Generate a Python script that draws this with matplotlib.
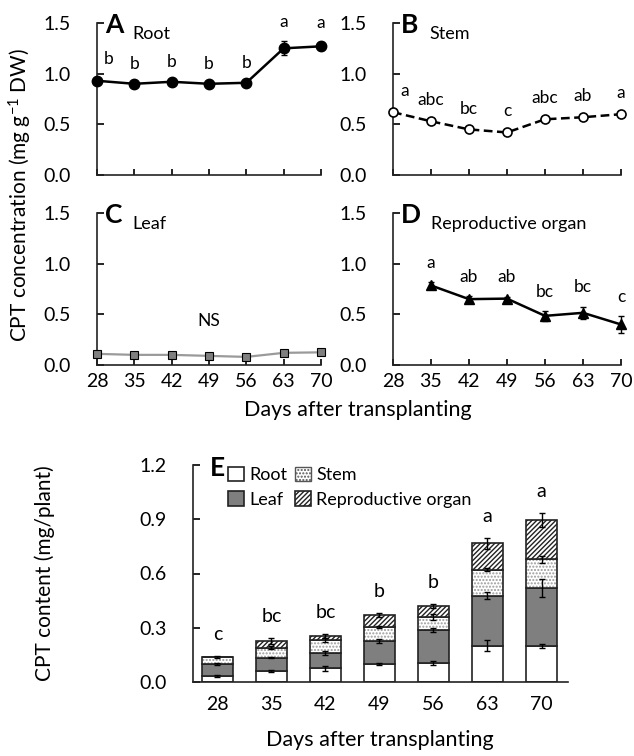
import numpy as np
import matplotlib
matplotlib.use('Agg')
import matplotlib.pyplot as plt

plt.rcParams['font.family'] = ['Lato', 'DejaVu Sans']
plt.rcParams['mathtext.fontset'] = 'custom'
plt.rcParams['mathtext.rm'] = 'Lato'
plt.rcParams['mathtext.it'] = 'Lato:italic'
plt.rcParams['hatch.linewidth'] = 1.0

# concentration data (mg g-1 DW)
days = [28, 35, 42, 49, 56, 63, 70]
root_conc = [0.93, 0.90, 0.92, 0.90, 0.91, 1.25, 1.27]
root_err = [0.02, 0.01, 0.01, 0.01, 0.01, 0.07, 0.04]
root_sig = ['b', 'b', 'b', 'b', 'b', 'a', 'a']

stem_conc = [0.62, 0.53, 0.45, 0.42, 0.55, 0.57, 0.60]
stem_err = [0.02, 0.02, 0.01, 0.02, 0.02, 0.02, 0.02]
stem_sig = ['a', 'abc', 'bc', 'c', 'abc', 'ab', 'a']

leaf_conc = [0.11, 0.10, 0.10, 0.09, 0.08, 0.12, 0.125]
leaf_err = [0.01, 0.01, 0.01, 0.01, 0.01, 0.01, 0.01]

repro_days = [35, 42, 49, 56, 63, 70]
repro_conc = [0.785, 0.65, 0.655, 0.485, 0.515, 0.40]
repro_err = [0.03, 0.03, 0.02, 0.05, 0.06, 0.08]
repro_sig = ['a', 'ab', 'ab', 'bc', 'bc', 'c']

# content data (mg/plant)
root_cont = [0.035, 0.063, 0.076, 0.098, 0.105, 0.200, 0.200]
leaf_cont = [0.065, 0.072, 0.084, 0.129, 0.181, 0.278, 0.322]
stem_cont = [0.040, 0.055, 0.071, 0.078, 0.074, 0.144, 0.156]
repro_cont = [0.000, 0.037, 0.022, 0.064, 0.059, 0.144, 0.217]
root_cont_err = [0.005, 0.005, 0.015, 0.005, 0.01, 0.03, 0.01]
leaf_cont_err = [0.005, 0.005, 0.01, 0.01, 0.01, 0.02, 0.05]
stem_cont_err = [0.005, 0.01, 0.01, 0.005, 0.015, 0.01, 0.02]
repro_cont_err = [0.0, 0.015, 0.01, 0.01, 0.01, 0.03, 0.04]
content_sig = ['c', 'bc', 'bc', 'b', 'b', 'a', 'a']

W, H = 634, 756
fig = plt.figure(figsize=(W / 100, H / 100), dpi=100)


def ax_px(l, t, r, b):
    return fig.add_axes([l / W, 1 - b / H, (r - l) / W, (b - t) / H])


def style(ax, ypad=19, xpad=6):
    for s in ['top', 'right']:
        ax.spines[s].set_visible(False)
    for s in ['left', 'bottom']:
        ax.spines[s].set_linewidth(1.2)
        ax.spines[s].set_color('#222222')
    ax.tick_params(axis='y', direction='in', length=5, width=1.2, labelsize=14, pad=ypad)
    ax.tick_params(axis='x', direction='in', length=4, width=1.2, labelsize=14, pad=xpad)


def line_panel(ax, x, y, err, letter, name, name_x=0.16, **kw):
    ax.errorbar(x, y, yerr=err, color='black', ecolor='black', elinewidth=1,
                capsize=2, clip_on=False, zorder=3, **kw)
    ax.set_xlim(28, 70)
    ax.set_ylim(0, 1.5)
    ax.set_xticks(days)
    ax.set_yticks([0, 0.5, 1.0, 1.5])
    ax.yaxis.set_major_formatter(matplotlib.ticker.FormatStrFormatter('%.1f'))
    style(ax)
    ax.text(0.035, 0.985, letter, transform=ax.transAxes, fontsize=19, fontweight='bold',
            va='center', ha='left')
    ax.text(name_x, 0.93, name, transform=ax.transAxes, fontsize=13,
            va='center', ha='left')


def sig_labels(ax, x, y, err, sig, first_shift=0.0):
    for xi, yi, ei, s in zip(x, y, err, sig):
        dx = first_shift if xi == 28 else 0
        ax.text(xi + dx, yi + ei + 0.19, s, ha='center', va='center', fontsize=12.5, clip_on=False)


axA = ax_px(97, 23, 321, 175)
line_panel(axA, days, root_conc, root_err, 'A', 'Root',
           marker='o', ms=7.5, mfc='black', mec='black', lw=1.8)
sig_labels(axA, days, root_conc, root_err, root_sig, first_shift=2.2)
axA.set_xticklabels([])

axB = ax_px(393, 23, 621, 175)
line_panel(axB, days, stem_conc, stem_err, 'B', 'Stem',
           marker='o', ms=6.5, mfc='white', mec='black', mew=1.2, lw=1.8, ls=(0, (3.5, 1.8)))
sig_labels(axB, days, stem_conc, stem_err, stem_sig, first_shift=2.2)
axB.set_xticklabels([])

axC = ax_px(97, 213, 321, 365)
line_panel(axC, days, leaf_conc, leaf_err, 'C', 'Leaf',
           marker='s', ms=6, mfc='#7f7f7f', mec='black', mew=0.8, lw=1.6)
axC.get_lines()[0].set_color('#9a9a9a')
axC.get_lines()[0].set_markeredgecolor('black')
axC.text(49, 0.43, 'NS', ha='center', va='center', fontsize=12.5)

axD = ax_px(393, 213, 621, 365)
line_panel(axD, repro_days, repro_conc, repro_err, 'D', 'Reproductive organ', name_x=0.165,
           marker='^', ms=7.5, mfc='black', mec='black', lw=1.8)
sig_labels(axD, repro_days, repro_conc, repro_err, repro_sig)

fig.text(20 / W, 1 - 195 / H, 'CPT concentration (mg g$^{-1}$ DW)', rotation=90,
         ha='center', va='center', fontsize=15)
fig.text(358 / W, 1 - 410 / H, 'Days after transplanting', ha='center', va='center', fontsize=15.5)

# panel E: stacked content
axE = ax_px(193, 465, 568, 682)
xpos = np.arange(len(days))
bw = 0.57
bottom = np.zeros(len(days))
layers = [
    (root_cont, root_cont_err, 'white', None, 'Root'),
    (leaf_cont, leaf_cont_err, '#7f7f7f', None, 'Leaf'),
    (stem_cont, stem_cont_err, 'white', '.....', 'Stem'),
    (repro_cont, repro_cont_err, 'white', '///////', 'Reproductive organ'),
]
handles = {}
for vals, errs, color, hatch, label in layers:
    vals = np.array(vals)
    if hatch == '.....':
        axE.bar(xpos, vals, bw, bottom=bottom, color='white', edgecolor='#9a9a9a',
                hatch=hatch, linewidth=0, zorder=2)
        axE.bar(xpos, vals, bw, bottom=bottom, color='none', edgecolor='#222222',
                linewidth=1.2, zorder=2)
        handles[label] = axE.bar([0], [0], 0, color='white', edgecolor='#555555',
                                 hatch=hatch, linewidth=1)
    else:
        handles[label] = axE.bar(xpos, vals, bw, bottom=bottom, color=color, edgecolor='#222222',
                                 hatch=hatch, linewidth=1.2, zorder=2)
    top = bottom + vals
    mask = vals > 0
    axE.errorbar(xpos[mask], top[mask], yerr=np.array(errs)[mask], fmt='none',
                 ecolor='black', elinewidth=1, capsize=2, zorder=4)
    bottom = top

for xi, t, e, s in zip(xpos, bottom, repro_cont_err, content_sig):
    axE.text(xi, t + e + 0.12, s, ha='center', va='center', fontsize=14)

axE.set_xlim(-0.45, 6.49)
axE.set_ylim(0, 1.2)
axE.set_yticks([0, 0.3, 0.6, 0.9, 1.2])
axE.yaxis.set_major_formatter(matplotlib.ticker.FormatStrFormatter('%.1f'))
axE.set_xticks(xpos)
axE.set_xticklabels([str(d) for d in days])
style(axE, ypad=19, xpad=10)
axE.tick_params(axis='x', length=0)
axE.text(0.045, 0.985, 'E', transform=axE.transAxes, fontsize=19, fontweight='bold',
         va='center', ha='left')
axE.legend([handles['Root'], handles['Leaf'], handles['Stem'], handles['Reproductive organ']],
           ['Root', 'Leaf', 'Stem', 'Reproductive organ'], ncol=2, frameon=False,
           fontsize=13, loc='upper left', bbox_to_anchor=(0.075, 1.025),
           handlelength=0.85, handleheight=0.85, handletextpad=0.3,
           columnspacing=0.45, labelspacing=0.45, borderaxespad=0)

fig.text(45 / W, 1 - 573 / H, 'CPT content (mg/plant)', rotation=90,
         ha='center', va='center', fontsize=15)
fig.text(380 / W, 1 - 740 / H, 'Days after transplanting', ha='center', va='center', fontsize=15.5)

fig.savefig('out.png', dpi=100)
